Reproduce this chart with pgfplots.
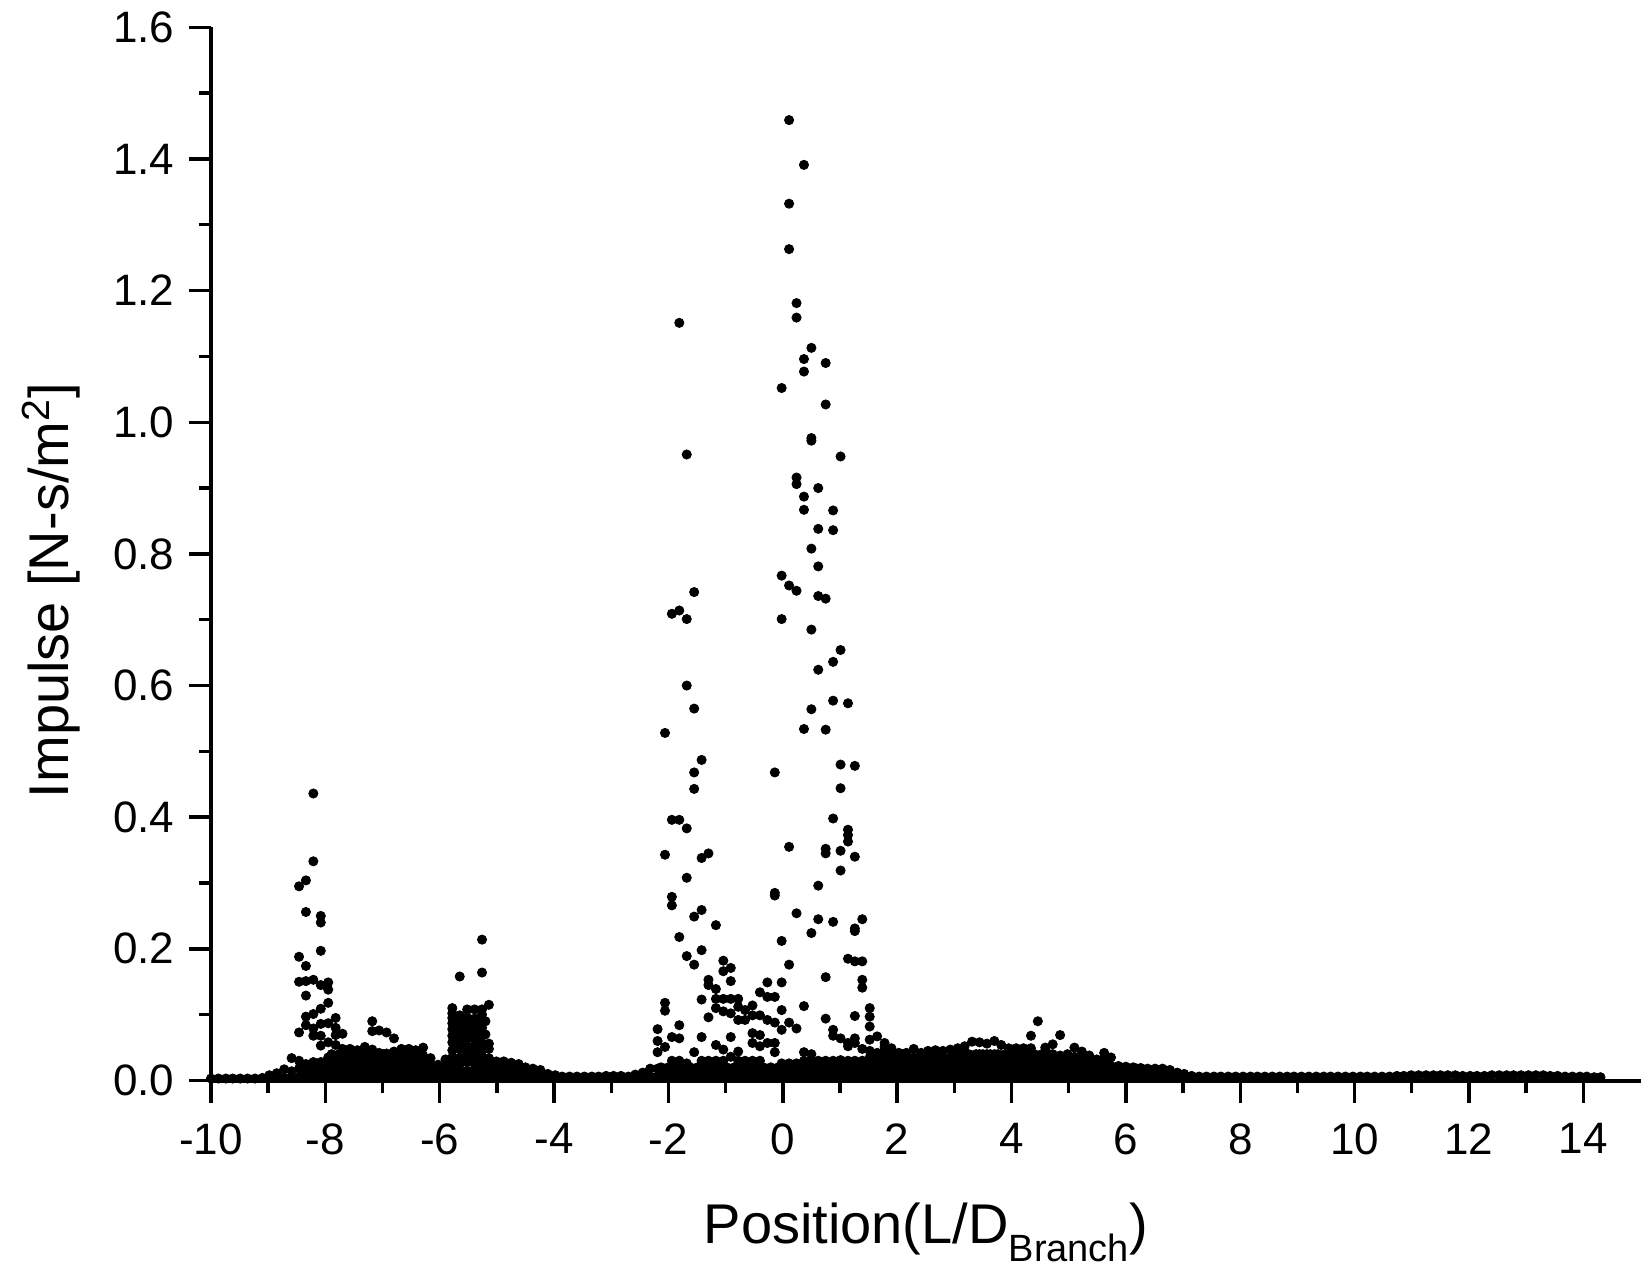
\documentclass[border=0pt]{standalone}
\usepackage{fontspec}
\setmainfont{Liberation Sans}
\usepackage{pgfplots}
\pgfplotsset{compat=1.18}
\pgfplotsset{dots/.style={only marks, mark=*, mark size=2.3pt, black}}
\begin{document}
\begin{tikzpicture}
\begin{axis}[
  name=ax,
  scale only axis,
  width=714.75pt, height=526.6pt,
  xmin=-10, xmax=15, ymin=0, ymax=1.6,
  axis x line*=bottom, axis y line*=left,
  axis line style={line width=2pt},
  xtick={-10,-8,-6,-4,-2,0,2,4,6,8,10,12,14},
  ytick={0,0.2,0.4,0.6,0.8,1.0,1.2,1.4,1.6},
  minor x tick num=1, minor y tick num=1,
  tick align=outside,
  major tick length=11pt, minor tick length=6pt,
  tick style={black, line width=1.7pt},
  /pgf/number format/assume math mode=true,
  tick label style={font=\fontsize{22}{25}\selectfont},
  xticklabel style={yshift=-7pt},
  yticklabel style={xshift=-3.75pt, /pgf/number format/fixed, /pgf/number format/fixed zerofill, /pgf/number format/precision=1},
  xlabel={Position(L/D\raisebox{-8.8pt}{\fontsize{19}{20}\selectfont Branch})},
  ylabel={Impulse [N-s/m\textsuperscript{2}]},
  label style={font=\fontsize{28}{32}\selectfont},
  xlabel style={at={(axis description cs:0.5,-0.1552)}, anchor=base},
  ylabel style={at={(axis description cs:-0.1000,0.465)}, anchor=base},
  clip=false,
]
% baseline row
\addplot[dots] coordinates {
(-10.00,0.003) (-9.87,0.003) (-9.74,0.003) (-9.62,0.003) (-9.49,0.003) (-9.36,0.003) (-9.23,0.003) (-9.10,0.004)
(-8.98,0.004) (-8.85,0.004) (-8.72,0.004) (-8.59,0.005) (-8.46,0.005) (-8.34,0.005) (-8.21,0.005) (-8.08,0.005)
(-7.95,0.005) (-7.82,0.005) (-7.70,0.005) (-7.57,0.005) (-7.44,0.005) (-7.31,0.005) (-7.18,0.005) (-7.06,0.005)
(-6.93,0.005) (-6.80,0.005) (-6.67,0.005) (-6.54,0.005) (-6.42,0.005) (-6.29,0.005) (-6.16,0.005) (-6.03,0.005)
(-5.90,0.005) (-5.78,0.005) (-5.65,0.005) (-5.52,0.005) (-5.39,0.005) (-5.26,0.005) (-5.14,0.005) (-5.01,0.005)
(-4.88,0.005) (-4.75,0.005) (-4.62,0.005) (-4.50,0.005) (-4.37,0.005) (-4.24,0.005) (-4.11,0.005) (-3.98,0.005)
(-3.86,0.006) (-3.73,0.006) (-3.60,0.006) (-3.47,0.006) (-3.34,0.006) (-3.22,0.006) (-3.09,0.007) (-2.96,0.007)
(-2.83,0.007) (-2.70,0.006) (-2.58,0.006) (-2.45,0.006) (-2.32,0.006) (-2.19,0.006) (-2.06,0.006) (-1.94,0.005)
(-1.81,0.005) (-1.68,0.005) (-1.55,0.005) (-1.42,0.005) (-1.30,0.005) (-1.17,0.005) (-1.04,0.005) (-0.91,0.005)
(-0.78,0.005) (-0.66,0.005) (-0.53,0.005) (-0.40,0.005) (-0.27,0.005) (-0.14,0.005) (-0.02,0.005) (0.11,0.005)
(0.24,0.005) (0.37,0.005) (0.50,0.005) (0.62,0.005) (0.75,0.005) (0.88,0.005) (1.01,0.005) (1.14,0.005)
(1.26,0.005) (1.39,0.005) (1.52,0.005) (1.65,0.005) (1.78,0.005) (1.90,0.005) (2.03,0.005) (2.16,0.005)
(2.29,0.005) (2.42,0.005) (2.54,0.005) (2.67,0.005) (2.80,0.005) (2.93,0.005) (3.06,0.005) (3.18,0.005)
(3.31,0.005) (3.44,0.005) (3.57,0.005) (3.70,0.005) (3.82,0.005) (3.95,0.005) (4.08,0.005) (4.21,0.005)
(4.34,0.005) (4.46,0.005) (4.59,0.005) (4.72,0.005) (4.85,0.005) (4.98,0.005) (5.10,0.005) (5.23,0.005)
(5.36,0.005) (5.49,0.005) (5.62,0.005) (5.74,0.005) (5.87,0.005) (6.00,0.005) (6.13,0.005) (6.26,0.005)
(6.38,0.005) (6.51,0.005) (6.64,0.005) (6.77,0.005) (6.90,0.005) (7.02,0.005) (7.15,0.006) (7.28,0.006)
(7.41,0.006) (7.54,0.006) (7.66,0.006) (7.79,0.006) (7.92,0.006) (8.05,0.006) (8.18,0.006) (8.30,0.006)
(8.43,0.006) (8.56,0.006) (8.69,0.006) (8.82,0.006) (8.94,0.006) (9.07,0.006) (9.20,0.006) (9.33,0.006)
(9.46,0.006) (9.58,0.006) (9.71,0.006) (9.84,0.006) (9.97,0.006) (10.10,0.006) (10.22,0.006) (10.35,0.006)
(10.48,0.006) (10.61,0.006) (10.74,0.007) (10.86,0.007) (10.99,0.008) (11.12,0.008) (11.25,0.008) (11.38,0.008)
(11.50,0.008) (11.63,0.008) (11.76,0.008) (11.89,0.007) (12.02,0.007) (12.14,0.007) (12.27,0.007) (12.40,0.008)
(12.53,0.008) (12.66,0.008) (12.78,0.008) (12.91,0.008) (13.04,0.008) (13.17,0.008) (13.30,0.008) (13.42,0.007)
(13.55,0.007) (13.68,0.006) (13.81,0.006) (13.94,0.006) (14.06,0.006) (14.19,0.005) (14.30,0.005)
};
% cluster near -8
\addplot[dots] coordinates {
(-8.98,0.008) (-8.85,0.011) (-8.72,0.017) (-8.59,0.014) (-8.59,0.034)
(-8.46,0.018) (-8.46,0.030) (-8.46,0.073) (-8.46,0.150) (-8.46,0.188) (-8.46,0.295)
(-8.34,0.015) (-8.34,0.025) (-8.34,0.084) (-8.34,0.097) (-8.34,0.129) (-8.34,0.151) (-8.34,0.174) (-8.34,0.256) (-8.34,0.304)
(-8.21,0.015) (-8.21,0.028) (-8.21,0.068) (-8.21,0.079) (-8.21,0.101) (-8.21,0.153) (-8.21,0.333) (-8.21,0.436)
(-8.08,0.016) (-8.08,0.028) (-8.08,0.053) (-8.08,0.068) (-8.08,0.086) (-8.08,0.109) (-8.08,0.145) (-8.08,0.197) (-8.08,0.240) (-8.08,0.250)
(-7.95,0.015) (-7.95,0.025) (-7.95,0.035) (-7.95,0.058) (-7.95,0.087) (-7.95,0.118) (-7.95,0.138) (-7.95,0.149)
(-7.82,0.016) (-7.82,0.026) (-7.82,0.036) (-7.82,0.054) (-7.82,0.069) (-7.82,0.080) (-7.82,0.095)
(-7.70,0.016) (-7.70,0.026) (-7.70,0.036) (-7.70,0.048) (-7.70,0.071)
(-7.57,0.016) (-7.57,0.026) (-7.57,0.036) (-7.57,0.048)
(-7.44,0.016) (-7.44,0.026) (-7.44,0.036) (-7.44,0.046)
(-7.31,0.016) (-7.31,0.026) (-7.31,0.036) (-7.31,0.051)
(-7.18,0.016) (-7.18,0.026) (-7.18,0.036) (-7.18,0.047) (-7.18,0.075) (-7.18,0.090)
(-7.06,0.016) (-7.06,0.026) (-7.06,0.042) (-7.06,0.076)
(-6.93,0.016) (-6.93,0.026) (-6.93,0.041) (-6.93,0.073)
(-6.80,0.016) (-6.80,0.026) (-6.80,0.044) (-6.80,0.064)
(-6.67,0.016) (-6.67,0.026) (-6.67,0.036) (-6.67,0.048)
(-6.54,0.016) (-6.54,0.026) (-6.54,0.036) (-6.54,0.048)
(-6.42,0.016) (-6.42,0.026) (-6.42,0.036) (-6.42,0.046)
(-6.29,0.016) (-6.29,0.026) (-6.29,0.038) (-6.29,0.050)
(-6.16,0.014) (-6.16,0.024) (-6.16,0.034)
(-6.03,0.014) (-6.03,0.024)
(-5.90,0.014) (-5.90,0.021) (-5.90,0.032)
};
% block near -5.5
\addplot[dots] coordinates {
(-5.78,0.015) (-5.78,0.025) (-5.78,0.035) (-5.78,0.046) (-5.78,0.058) (-5.78,0.068) (-5.78,0.078) (-5.78,0.087) (-5.78,0.095) (-5.78,0.102) (-5.78,0.110)
(-5.65,0.015) (-5.65,0.025) (-5.65,0.035) (-5.65,0.048) (-5.65,0.060) (-5.65,0.070) (-5.65,0.080) (-5.65,0.090) (-5.65,0.099) (-5.65,0.158)
(-5.52,0.015) (-5.52,0.028) (-5.52,0.040) (-5.52,0.052) (-5.52,0.064) (-5.52,0.075) (-5.52,0.086) (-5.52,0.096) (-5.52,0.108)
(-5.39,0.015) (-5.39,0.025) (-5.39,0.038) (-5.39,0.050) (-5.39,0.062) (-5.39,0.074) (-5.39,0.084) (-5.39,0.094) (-5.39,0.108)
(-5.26,0.015) (-5.26,0.025) (-5.26,0.035) (-5.26,0.045) (-5.26,0.056) (-5.26,0.068) (-5.26,0.080) (-5.26,0.090) (-5.26,0.100) (-5.26,0.108) (-5.26,0.164) (-5.26,0.214)
(-5.14,0.015) (-5.14,0.025) (-5.14,0.034) (-5.14,0.048) (-5.14,0.056) (-5.14,0.115)
(-5.01,0.014) (-5.01,0.029) (-4.88,0.014) (-4.88,0.029) (-4.75,0.015) (-4.75,0.027)
(-4.62,0.013) (-4.62,0.025) (-4.50,0.012) (-4.50,0.020) (-4.37,0.010) (-4.37,0.018)
(-4.24,0.010) (-4.24,0.016) (-4.11,0.010) (-3.98,0.008)
};
% central peaks
\addplot[dots] coordinates {
(-2.58,0.009) (-2.45,0.012) (-2.32,0.018)
(-2.19,0.018) (-2.19,0.043) (-2.19,0.060) (-2.19,0.078)
(-2.06,0.018) (-2.06,0.051) (-2.06,0.106) (-2.06,0.118) (-2.06,0.343) (-2.06,0.528)
(-1.94,0.015) (-1.94,0.030) (-1.94,0.066) (-1.94,0.266) (-1.94,0.279) (-1.94,0.396) (-1.94,0.709)
(-1.81,0.015) (-1.81,0.030) (-1.81,0.064) (-1.81,0.084) (-1.81,0.218) (-1.81,0.396) (-1.81,0.714) (-1.81,1.151)
(-1.68,0.015) (-1.68,0.026) (-1.68,0.189) (-1.68,0.308) (-1.68,0.383) (-1.68,0.600) (-1.68,0.701) (-1.68,0.951)
(-1.55,0.015) (-1.55,0.043) (-1.55,0.176) (-1.55,0.249) (-1.55,0.443) (-1.55,0.468) (-1.55,0.565) (-1.55,0.742)
(-1.42,0.015) (-1.42,0.030) (-1.42,0.066) (-1.42,0.123) (-1.42,0.198) (-1.42,0.259) (-1.42,0.338) (-1.42,0.487)
(-1.30,0.015) (-1.30,0.030) (-1.30,0.096) (-1.30,0.145) (-1.30,0.153) (-1.30,0.345)
(-1.17,0.017) (-1.17,0.030) (-1.17,0.054) (-1.17,0.110) (-1.17,0.124) (-1.17,0.139) (-1.17,0.236)
(-1.04,0.015) (-1.04,0.030) (-1.04,0.047) (-1.04,0.105) (-1.04,0.124) (-1.04,0.166) (-1.04,0.182)
(-0.91,0.015) (-0.91,0.036) (-0.91,0.066) (-0.91,0.102) (-0.91,0.124) (-0.91,0.151) (-0.91,0.171)
(-0.78,0.015) (-0.78,0.030) (-0.78,0.044) (-0.78,0.092) (-0.78,0.112) (-0.78,0.124)
(-0.66,0.015) (-0.66,0.030) (-0.66,0.092) (-0.66,0.107)
(-0.53,0.015) (-0.53,0.030) (-0.53,0.057) (-0.53,0.072) (-0.53,0.099) (-0.53,0.114)
(-0.40,0.015) (-0.40,0.030) (-0.40,0.052) (-0.40,0.069) (-0.40,0.099) (-0.40,0.134)
(-0.27,0.015) (-0.27,0.057) (-0.27,0.092) (-0.27,0.127) (-0.27,0.149)
(-0.14,0.015) (-0.14,0.043) (-0.14,0.057) (-0.14,0.088) (-0.14,0.127) (-0.14,0.281) (-0.14,0.285) (-0.14,0.468)
(-0.02,0.015) (-0.02,0.026) (-0.02,0.077) (-0.02,0.107) (-0.02,0.149) (-0.02,0.212) (-0.02,0.701) (-0.02,0.767) (-0.02,1.052)
(0.11,0.015) (0.11,0.026) (0.11,0.088) (0.11,0.176) (0.11,0.355) (0.11,0.752) (0.11,1.263) (0.11,1.332) (0.11,1.459)
(0.24,0.015) (0.24,0.026) (0.24,0.079) (0.24,0.254) (0.24,0.744) (0.24,0.906) (0.24,0.916) (0.24,1.159) (0.24,1.181)
(0.37,0.015) (0.37,0.030) (0.37,0.043) (0.37,0.113) (0.37,0.534) (0.37,0.867) (0.37,0.887) (0.37,1.077) (0.37,1.096) (0.37,1.391)
(0.50,0.015) (0.50,0.030) (0.50,0.040) (0.50,0.224) (0.50,0.564) (0.50,0.685) (0.50,0.808) (0.50,0.972) (0.50,0.976) (0.50,1.113)
(0.62,0.015) (0.62,0.030) (0.62,0.245) (0.62,0.296) (0.62,0.624) (0.62,0.736) (0.62,0.781) (0.62,0.838) (0.62,0.900)
(0.75,0.015) (0.75,0.030) (0.75,0.094) (0.75,0.157) (0.75,0.345) (0.75,0.352) (0.75,0.533) (0.75,0.732) (0.75,1.027) (0.75,1.090)
(0.88,0.015) (0.88,0.030) (0.88,0.068) (0.88,0.077) (0.88,0.241) (0.88,0.398) (0.88,0.577) (0.88,0.636) (0.88,0.836) (0.88,0.866)
(1.01,0.015) (1.01,0.031) (1.01,0.064) (1.01,0.319) (1.01,0.349) (1.01,0.444) (1.01,0.480) (1.01,0.654) (1.01,0.948)
(1.14,0.015) (1.14,0.030) (1.14,0.052) (1.14,0.057) (1.14,0.185) (1.14,0.363) (1.14,0.373) (1.14,0.381) (1.14,0.573)
(1.26,0.015) (1.26,0.030) (1.26,0.057) (1.26,0.064) (1.26,0.098) (1.26,0.181) (1.26,0.227) (1.26,0.231) (1.26,0.340) (1.26,0.478)
(1.39,0.015) (1.39,0.030) (1.39,0.048) (1.39,0.141) (1.39,0.153) (1.39,0.181) (1.39,0.245)
(1.52,0.015) (1.52,0.025) (1.52,0.035) (1.52,0.045) (1.52,0.062) (1.52,0.082) (1.52,0.097) (1.52,0.110)
};
% low hump 1.6 to 7
\addplot[dots] coordinates {
(1.65,0.015) (1.65,0.025) (1.65,0.035) (1.65,0.042) (1.65,0.067)
(1.78,0.015) (1.78,0.025) (1.78,0.035) (1.78,0.045) (1.78,0.051) (1.78,0.057)
(1.90,0.015) (1.90,0.025) (1.90,0.035) (1.90,0.049)
(2.03,0.015) (2.03,0.025) (2.03,0.035) (2.03,0.042)
(2.16,0.015) (2.16,0.025) (2.16,0.035) (2.16,0.042)
(2.29,0.015) (2.29,0.025) (2.29,0.035) (2.29,0.048)
(2.42,0.015) (2.42,0.025) (2.42,0.035) (2.42,0.042)
(2.54,0.015) (2.54,0.025) (2.54,0.035) (2.54,0.045)
(2.67,0.015) (2.67,0.025) (2.67,0.035) (2.67,0.046)
(2.80,0.015) (2.80,0.025) (2.80,0.035) (2.80,0.045)
(2.93,0.015) (2.93,0.025) (2.93,0.035) (2.93,0.047)
(3.06,0.015) (3.06,0.025) (3.06,0.035) (3.06,0.049)
(3.18,0.015) (3.18,0.025) (3.18,0.038) (3.18,0.052)
(3.31,0.015) (3.31,0.025) (3.31,0.038) (3.31,0.059)
(3.44,0.015) (3.44,0.025) (3.44,0.040) (3.44,0.058)
(3.57,0.015) (3.57,0.025) (3.57,0.040) (3.57,0.056)
(3.70,0.015) (3.70,0.025) (3.70,0.040) (3.70,0.060)
(3.82,0.015) (3.82,0.025) (3.82,0.038) (3.82,0.054)
(3.95,0.015) (3.95,0.025) (3.95,0.037) (3.95,0.049)
(4.08,0.015) (4.08,0.025) (4.08,0.037) (4.08,0.049)
(4.21,0.015) (4.21,0.025) (4.21,0.037) (4.21,0.049)
(4.34,0.015) (4.34,0.025) (4.34,0.038) (4.34,0.049) (4.34,0.068)
(4.46,0.015) (4.46,0.025) (4.46,0.036) (4.46,0.090)
(4.59,0.015) (4.59,0.025) (4.59,0.036) (4.59,0.050)
(4.72,0.015) (4.72,0.025) (4.72,0.040) (4.72,0.055)
(4.85,0.015) (4.85,0.025) (4.85,0.038) (4.85,0.069)
(4.98,0.014) (4.98,0.024) (4.98,0.040)
(5.10,0.014) (5.10,0.024) (5.10,0.036) (5.10,0.050)
(5.23,0.014) (5.23,0.024) (5.23,0.034) (5.23,0.044)
(5.36,0.014) (5.36,0.024) (5.36,0.038)
(5.49,0.013) (5.49,0.022) (5.49,0.032)
(5.62,0.013) (5.62,0.022) (5.62,0.032) (5.62,0.042)
(5.74,0.013) (5.74,0.022) (5.74,0.035)
(5.87,0.013) (5.87,0.022) (6.00,0.012) (6.00,0.021) (6.13,0.012) (6.13,0.020)
(6.26,0.012) (6.26,0.019) (6.38,0.011) (6.38,0.018) (6.51,0.011) (6.51,0.018)
(6.64,0.011) (6.64,0.018) (6.77,0.010) (6.77,0.016) (6.90,0.012) (7.02,0.010) (7.15,0.007)
};
% in-between positions of the dense low band
\addplot[dots] coordinates {
(-8.40,0.010) (-8.40,0.020) (-8.27,0.010) (-8.27,0.020) (-8.15,0.010) (-8.15,0.020) (-8.02,0.010) (-8.02,0.020)
(-7.89,0.010) (-7.89,0.020) (-7.89,0.030) (-7.89,0.040) (-7.76,0.010) (-7.76,0.020) (-7.76,0.030) (-7.76,0.040)
(-7.63,0.010) (-7.63,0.020) (-7.63,0.030) (-7.63,0.040) (-7.50,0.010) (-7.50,0.020) (-7.50,0.030) (-7.50,0.040)
(-7.38,0.010) (-7.38,0.020) (-7.38,0.030) (-7.38,0.040) (-7.25,0.010) (-7.25,0.020) (-7.25,0.030) (-7.25,0.040)
(-7.12,0.010) (-7.12,0.020) (-7.12,0.030) (-7.12,0.040) (-6.99,0.010) (-6.99,0.020) (-6.99,0.030) (-6.99,0.040)
(-6.86,0.010) (-6.86,0.020) (-6.86,0.030) (-6.86,0.040) (-6.74,0.010) (-6.74,0.020) (-6.74,0.030) (-6.74,0.040)
(-6.61,0.010) (-6.61,0.020) (-6.61,0.030) (-6.61,0.040) (-6.48,0.010) (-6.48,0.020) (-6.48,0.030) (-6.48,0.040)
(-6.35,0.010) (-6.35,0.020) (-6.35,0.030) (-6.35,0.040) (-6.22,0.010) (-6.22,0.020) (-6.10,0.010) (-6.10,0.020)
(-5.97,0.010)
(-5.71,0.010) (-5.71,0.030) (-5.71,0.050) (-5.71,0.070) (-5.71,0.090)
(-5.58,0.010) (-5.58,0.030) (-5.58,0.050) (-5.58,0.070) (-5.58,0.090)
(-5.45,0.010) (-5.45,0.030) (-5.45,0.050) (-5.45,0.070) (-5.45,0.090)
(-5.33,0.010) (-5.33,0.030) (-5.33,0.050) (-5.33,0.070) (-5.33,0.090)
(-5.20,0.010) (-5.20,0.030) (-5.20,0.050) (-5.20,0.070) (-5.20,0.090)
(-5.08,0.010) (-5.08,0.020) (-4.95,0.010) (-4.95,0.020) (-4.82,0.010) (-4.82,0.020) (-4.69,0.010) (-4.69,0.020)
(-4.56,0.010) (-4.43,0.010) (-4.30,0.010)
(-2.13,0.010) (-2.13,0.020) (-2.00,0.010) (-2.00,0.020) (-1.87,0.010) (-1.87,0.020) (-1.74,0.010) (-1.74,0.020)
(-1.62,0.010) (-1.62,0.020) (-1.49,0.010) (-1.49,0.020) (-1.36,0.010) (-1.36,0.020) (-1.23,0.010) (-1.23,0.020)
(-1.10,0.010) (-1.10,0.020) (-0.98,0.010) (-0.98,0.020) (-0.85,0.010) (-0.85,0.020) (-0.72,0.010) (-0.72,0.020)
(-0.59,0.010) (-0.59,0.020) (-0.46,0.010) (-0.46,0.020) (-0.34,0.010) (-0.34,0.020) (-0.21,0.010) (-0.21,0.020)
(-0.08,0.010) (-0.08,0.020) (0.05,0.010) (0.05,0.020) (0.18,0.010) (0.18,0.020) (0.30,0.010) (0.30,0.020)
(0.43,0.010) (0.43,0.020) (0.56,0.010) (0.56,0.020) (0.69,0.010) (0.69,0.020) (0.82,0.010) (0.82,0.020)
(0.94,0.010) (0.94,0.020) (1.07,0.010) (1.07,0.020) (1.20,0.010) (1.20,0.020) (1.33,0.010) (1.33,0.020)
(1.46,0.010) (1.46,0.020) (1.58,0.010) (1.58,0.020) (1.58,0.030)
(1.71,0.010) (1.71,0.020) (1.71,0.030) (1.71,0.040) (1.84,0.010) (1.84,0.020) (1.84,0.030) (1.84,0.040)
(1.97,0.010) (1.97,0.020) (1.97,0.030) (1.97,0.040) (2.10,0.010) (2.10,0.020) (2.10,0.030) (2.10,0.040)
(2.22,0.010) (2.22,0.020) (2.22,0.030) (2.35,0.010) (2.35,0.020) (2.35,0.030) (2.48,0.010) (2.48,0.020) (2.48,0.030)
(2.61,0.010) (2.61,0.020) (2.61,0.030) (2.74,0.010) (2.74,0.020) (2.74,0.030) (2.86,0.010) (2.86,0.020) (2.86,0.030)
(2.99,0.010) (2.99,0.020) (2.99,0.030) (2.99,0.040) (3.12,0.010) (3.12,0.020) (3.12,0.030) (3.12,0.040)
(3.25,0.010) (3.25,0.020) (3.25,0.030) (3.25,0.040) (3.38,0.010) (3.38,0.020) (3.38,0.030) (3.38,0.040)
(3.50,0.010) (3.50,0.020) (3.50,0.030) (3.50,0.040) (3.63,0.010) (3.63,0.020) (3.63,0.030) (3.63,0.040)
(3.76,0.010) (3.76,0.020) (3.76,0.030) (3.76,0.040) (3.89,0.010) (3.89,0.020) (3.89,0.030) (3.89,0.040)
(4.02,0.010) (4.02,0.020) (4.02,0.030) (4.02,0.040) (4.14,0.010) (4.14,0.020) (4.14,0.030) (4.14,0.040)
(4.27,0.010) (4.27,0.020) (4.27,0.030) (4.27,0.040) (4.40,0.010) (4.40,0.020) (4.40,0.030) (4.40,0.040)
(4.53,0.010) (4.53,0.020) (4.53,0.030) (4.53,0.040) (4.66,0.010) (4.66,0.020) (4.66,0.030) (4.66,0.040)
(4.78,0.010) (4.78,0.020) (4.78,0.030) (4.91,0.010) (4.91,0.020) (4.91,0.030) (5.04,0.010) (5.04,0.020) (5.04,0.030)
(5.17,0.010) (5.17,0.020) (5.17,0.030) (5.30,0.010) (5.30,0.020) (5.30,0.030) (5.42,0.010) (5.42,0.020) (5.42,0.030)
(5.55,0.010) (5.55,0.020) (5.55,0.030) (5.68,0.010) (5.68,0.020) (5.68,0.030)
(5.81,0.010) (5.81,0.018) (5.94,0.010) (5.94,0.018) (6.06,0.010) (6.06,0.018) (6.19,0.010) (6.19,0.018)
(6.32,0.008) (6.32,0.015) (6.45,0.008) (6.45,0.015) (6.58,0.008) (6.58,0.015) (6.70,0.008) (6.70,0.015) (6.83,0.008)
};
\end{axis}
\path ([shift={(-105.5pt,-96.75pt)}]ax.south west) rectangle ([shift={(4.25pt,13.65pt)}]ax.north east);
\end{tikzpicture}
\end{document}
